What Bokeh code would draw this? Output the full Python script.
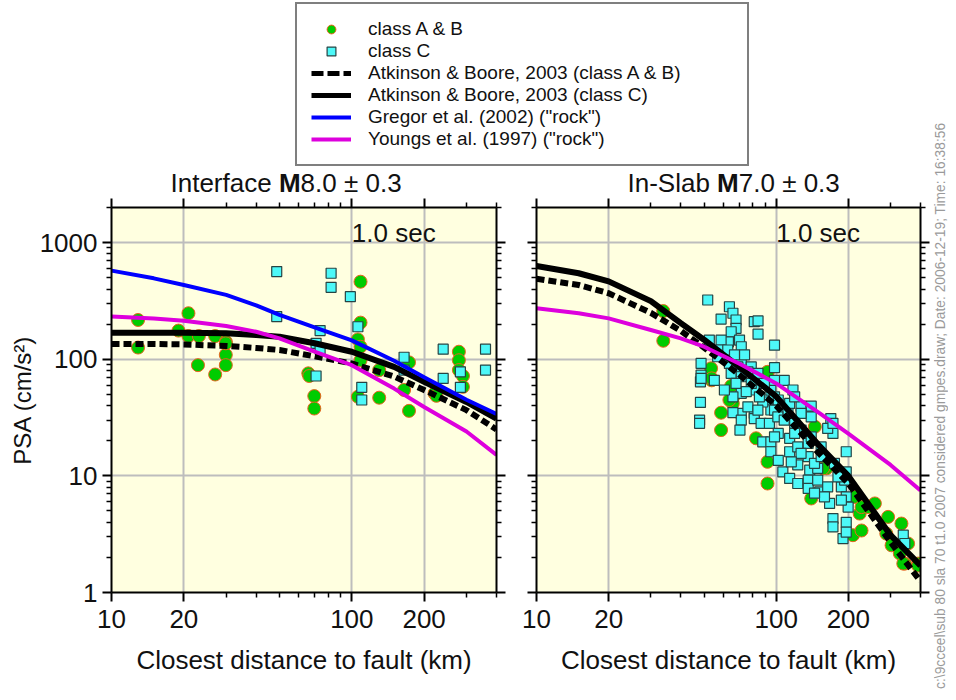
import math
from bokeh.plotting import figure
from bokeh.models import (LogAxis, FixedTicker, Label, Legend, LegendItem,
                          Range1d, NumeralTickFormatter)
from bokeh.layouts import column, row
from bokeh.embed import file_html
from bokeh.resources import INLINE

FONT = "Liberation Sans"
BG = "#FFFFE0"
GREEN = "#00CC00"
GREEN_EDGE = "#E8641E"
CYAN = "#4DF8F8"
CYAN_EDGE = "#264444"
TXT = "#111111"

# ---------------- data ----------------
x_ticks = [10, 20, 100, 200]
x_minor = [30, 40, 50, 60, 70, 80, 90, 300, 400]
y_ticks = [1, 10, 100, 1000]
y_minor = [2, 3, 4, 5, 6, 7, 8, 9, 20, 30, 40, 50, 60, 70, 80, 90,
           200, 300, 400, 500, 600, 700, 800, 900, 2000]

curve_x = [10, 15, 20, 30, 40, 50, 70, 100, 150, 200, 300, 400]

# Interface M8.0 panel
left_ab03_ab = [135, 135, 134, 130, 125, 120, 106, 92, 71, 54.5, 36.6, 25]
left_ab03_c = [169, 169, 169, 167, 161, 156, 137, 116, 86, 64, 43, 31]
left_gregor = [575, 494, 433, 356, 290, 240, 188, 145, 97, 70, 45, 34]
left_youngs = [232, 223, 214, 193, 172, 151, 116, 89, 56, 39, 24, 15.1]

left_ab_x = [12.9, 12.9, 20.9, 19.0, 20.9, 23.1, 22.9, 27.0, 27.0, 29.9, 29.9, 29.9,
             29.9, 65.9, 66.5, 69.8, 69.8, 108.7, 108.7, 106, 108.7, 108.7, 106, 130,
             130, 173, 165, 173, 221, 225, 279, 279, 279, 290, 290]
left_ab_y = [217, 126, 248, 176, 158, 158, 89, 158, 74, 141, 109, 89,
             137, 75.7, 71.8, 48.3, 37.8, 462, 206, 148, 128, 98, 47.7, 46.8,
             80.7, 94, 54.5, 36.1, 51, 48.6, 116, 98, 80.7, 71.8, 58]
left_c_x = [48.7, 48.7, 82, 82, 98.6, 73.8, 71, 73.8, 71, 106, 110, 110, 165, 165,
            240, 240, 283, 283, 360, 360]
left_c_y = [564, 232, 546, 414, 344, 176, 137, 122, 71.8, 190, 57.4, 44.7, 104, 80.7,
            122, 68.5, 78, 57.4, 122, 80.7]

# In-Slab M7.0 panel
right_ab03_ab = [490, 433, 368, 250, 175, 126, 74, 40, 15.8, 8.6, 2.7, 1.25]
right_ab03_c = [630, 546, 465, 315, 204, 147, 86, 48, 18.5, 10, 3.1, 1.7]
right_youngs = [274, 248, 224, 178, 151, 128, 92, 62, 35, 23, 12.4, 7.5]

right_ab_x = [33.8, 33.8, 53.5, 53.8, 58.9, 65.9, 92, 58.9, 82.4, 92, 92, 140, 162, 145,
              209, 227, 223, 242, 258, 293, 333, 288, 303, 328, 344, 355, 391, 339, 391,
              157, 67, 64.9, 63.8, 213, 227, 92, 53.8]
right_ab_y = [259, 144, 83.6, 66, 34.8, 41.8, 75.7, 24.7, 21, 13.2, 8.6, 6.4, 11.6, 26.4,
              3.1, 3.4, 4.75, 5.4, 5.8, 4.45, 3.9, 3.2, 2.54, 2.16, 1.77, 2.63, 1.77, 1.77, 1.7,
              11.6, 49.3, 59, 44.7, 6.6, 5.4, 78, 68.5]

right_c_x = [51.8, 63.8, 66, 58.9, 68, 68, 81, 84, 84, 98.4, 64.9, 63.2, 70.3, 71.5, 58.9,
             52.6, 58, 48.6, 48.6, 48.3, 48.3, 47.9, 57, 63.8, 71.5, 78.7, 81, 98.4, 108,
             117.5, 127, 140, 140, 169, 102, 92, 95, 81, 71.5, 66, 60.8, 55.2, 71.5, 81, 66,
             87.9, 47.9, 71.5, 70.6, 81, 86.5, 93.7, 87.9, 95, 95, 102, 113.8, 113.8, 102,
             106.6, 113.8, 123, 136, 138, 136, 136, 149, 152, 164, 167, 187, 196, 199.6,
             172.5, 172.5, 196, 190, 196, 172.5, 164, 196, 196, 193, 149, 154, 136, 123, 112,
             127, 172.5, 339, 344, 48.6, 62.8, 67, 73.8, 69.2, 76.2, 64.9, 71.5, 68, 78.7,
             75, 85.1, 95, 98.4, 102, 113.8, 119.4, 98.4, 89.3, 83.9, 76.2, 83.9, 98.4,
             101.6, 108, 119.4, 127, 98.4, 119.4, 140, 127, 115.6, 144.5, 154, 175, 181,
             159, 187, 123, 144.5]
right_c_y = [322, 282, 248, 221, 217, 184, 210, 213, 164, 132, 172, 141, 146, 128, 146,
             146, 120, 92, 73, 64, 42.6, 30.1, 105, 92, 98, 86, 73, 84.6, 66,
             54.5, 39.6, 39.6, 32, 31, 34.4, 44.7, 36.7, 54.5, 51, 47.6, 54.5, 66, 34.4, 34.4, 34.8,
             43, 28.2, 30, 24.7, 31, 28.2, 28.2, 19.6, 19.6, 16.1, 23.1, 21, 16.1, 13.6,
             10.8, 9.5, 12.4, 14.6, 11.2, 9.2, 7.8, 9.2, 7.3, 8.05, 5.8, 8.05, 6.6, 5.4,
             4.3, 3.65, 4.0, 2.9, 3.3, 23.1, 25.5, 16.1, 10.8, 9.2, 11.6, 17.7, 19, 17.7, 34.4,
             34.4, 28.2, 3.1, 2.63, 68.6, 120, 109, 109, 86, 78, 75.7, 70.8, 62, 62,
             52.7, 47.6, 54.5, 47.6, 44.7, 41.8, 47.6, 66, 62, 75.7, 39.1, 36.6, 36.6,
             32, 30, 28.2, 24.7, 21.6, 23.1, 21.6, 15.6, 13.2, 12.8, 14.6, 12.8, 9.8,
             6.6, 6.2, 8.6, 7.1]

legend_labels = ["class A & B", "class C", "Atkinson & Boore, 2003 (class A & B)",
                 "Atkinson & Boore, 2003 (class C)", "Gregor et al. (2002) (\"rock\")",
                 "Youngs et al. (1997) (\"rock\")"]
titles = [("Interface ", "M", "8.0 \u00b1 0.3"), ("In-Slab ", "M", "7.0 \u00b1 0.3")]
xlabel = "Closest distance to fault (km)"
ylabel = "PSA (cm/s\u00b2)"
period_label = "1.0 sec"
side_note = ("c:\\9cceel\\sub  80  sla  70  t1.0  2007  considered  gmpes.draw;  "
             "Date: 2006-12-19;  Time: 16:38:56")

# ---------------- layout constants (pixels) ----------------
HEAD_H = 197          # legend + titles strip
FRAME_H = 385
TOP = 10
BOTTOM = 105
PANEL_H = TOP + FRAME_H + BOTTOM
SIDE_W = 15
BASE_FIX = 10         # svg alphabetic-baseline correction for 26px labels


def style_axis(ax, labels=True):
    ax.axis_line_width = 2
    ax.axis_line_color = "black"
    ax.major_tick_line_width = 2
    ax.minor_tick_line_width = 1.5
    ax.major_tick_line_color = "black"
    ax.minor_tick_line_color = "black"
    ax.major_tick_out = 9
    ax.major_tick_in = 0
    ax.minor_tick_out = 5
    ax.minor_tick_in = 0
    ax.major_label_text_font = FONT
    ax.major_label_text_font_size = "26px"
    ax.major_label_text_color = TXT
    ax.axis_label_text_font = FONT
    ax.axis_label_text_font_size = "26px"
    ax.axis_label_text_font_style = "normal"
    ax.axis_label_text_color = TXT
    ax.formatter = NumeralTickFormatter(format="0")
    if not labels:
        ax.major_label_text_font_size = "0px"
        ax.major_label_standoff = 0


def make_panel(width, ml, mr, show_y, ab_x, ab_y, c_x, c_y,
               ab03_ab, ab03_c, youngs, gregor=None):
    p = figure(width=width, height=PANEL_H,
               x_axis_type="log", y_axis_type="log",
               x_range=Range1d(10, 400), y_range=Range1d(1, 2000),
               output_backend="svg", toolbar_location=None,
               min_border_left=ml, min_border_right=mr,
               min_border_top=TOP, min_border_bottom=BOTTOM,
               background_fill_color=BG, border_fill_color="white",
               outline_line_color=None)
    xt = FixedTicker(ticks=x_ticks, minor_ticks=x_minor)
    yt = FixedTicker(ticks=y_ticks, minor_ticks=y_minor)
    bx = p.xaxis[0]
    ly = p.yaxis[0]
    bx.ticker = xt
    ly.ticker = yt
    style_axis(bx)
    bx.major_label_standoff = 8
    bx.axis_label = xlabel
    bx.axis_label_standoff = 14
    style_axis(ly, labels=show_y)
    if show_y:
        ly.major_label_standoff = 5
        ly.axis_label = ylabel
        ly.axis_label_text_font_size = "24px"
        ly.axis_label_standoff = 1
    top = LogAxis(ticker=xt)
    style_axis(top, labels=False)
    p.add_layout(top, "above")
    right = LogAxis(ticker=yt)
    style_axis(right, labels=False)
    p.add_layout(right, "right")

    p.xgrid[0].ticker = FixedTicker(ticks=x_ticks)
    p.ygrid[0].ticker = FixedTicker(ticks=y_ticks)
    for g in (p.xgrid[0], p.ygrid[0]):
        g.grid_line_color = "#BDBDBD"
        g.grid_line_width = 2

    p.scatter(ab_x, ab_y, marker="circle", size=13, fill_color=GREEN,
              line_color=GREEN_EDGE, line_width=1)
    p.scatter(c_x, c_y, marker="square", size=10, fill_color=CYAN,
              line_color=CYAN_EDGE, line_width=1.2)
    p.line(curve_x, ab03_ab, line_color="black", line_width=6, line_dash="8 4")
    p.line(curve_x, ab03_c, line_color="black", line_width=6)
    if gregor is not None:
        p.line(curve_x, gregor, line_color="#0000FF", line_width=4)
    p.line(curve_x, youngs, line_color="#DD00DD", line_width=4)

    p.add_layout(Label(x=100, y=FRAME_H - 35 + BASE_FIX, x_units="data", y_units="screen",
                       text=period_label, text_font=FONT, text_font_size="26px",
                       text_color=TXT, text_baseline="alphabetic"))
    return p


left = make_panel(111 + 385 + 19, 111, 19, True, left_ab_x, left_ab_y,
                  left_c_x, left_c_y, left_ab03_ab, left_ab03_c, left_youngs,
                  gregor=left_gregor)
right = make_panel(21 + 384 + 13, 21, 13, False, right_ab_x, right_ab_y,
                   right_c_x, right_c_y, right_ab03_ab, right_ab03_c, right_youngs)

# header: legend + panel titles
HEAD_W = left.width + right.width
lf = figure(width=HEAD_W, height=HEAD_H, output_backend="svg", toolbar_location=None,
            min_border=0, x_axis_type=None, y_axis_type=None, outline_line_color=None,
            x_range=Range1d(0, 1), y_range=Range1d(0, 1))
# legend sample glyphs (kept outside the visible range)
r1 = lf.scatter([-5], [-5], marker="circle", size=13, fill_color=GREEN,
                line_color=GREEN_EDGE, line_width=1)
r2 = lf.scatter([-5], [-5], marker="square", size=10, fill_color=CYAN,
                line_color=CYAN_EDGE, line_width=1.2)
r3 = lf.line([-6, -5], [-5, -5], line_color="black", line_width=5, line_dash="12 4")
r4 = lf.line([-6, -5], [-5, -5], line_color="black", line_width=5)
r5 = lf.line([-6, -5], [-5, -5], line_color="#0000FF", line_width=4)
r6 = lf.line([-6, -5], [-5, -5], line_color="#DD00DD", line_width=4)
items = [LegendItem(label=lab, renderers=[r]) for lab, r in
         zip(legend_labels, [r1, r2, r3, r4, r5, r6])]
leg = Legend(items=items, location=(295, HEAD_H - 166), margin=0, padding=14, spacing=0,
             glyph_width=40, glyph_height=22, label_height=22, label_width=365,
             label_standoff=17, label_text_font=FONT, label_text_font_size="19px",
             label_text_color=TXT, label_text_baseline="middle",
             border_line_color="black", border_line_width=2,
             background_fill_color="white", background_fill_alpha=1.0)
lf.add_layout(leg)


def add_title(fig, x0, parts, widths):
    styles = ["normal", "bold", "normal"]
    xs = [x0, x0 + widths[0], x0 + widths[0] + widths[1]]
    for t, s, x in zip(parts, styles, xs):
        fig.add_layout(Label(x=x, y=HEAD_H - 192.7 + BASE_FIX, x_units="screen",
                             y_units="screen", text=t, text_font=FONT,
                             text_font_size="26px", text_font_style=s, text_color=TXT,
                             text_baseline="alphabetic"))


add_title(lf, 170, titles[0], (108.4, 21.7))
add_title(lf, 627, titles[1], (89.6, 21.7))

# side note strip
TOTAL_H = HEAD_H + PANEL_H
sf = figure(width=SIDE_W, height=TOTAL_H, output_backend="svg",
            toolbar_location=None, min_border=0, x_axis_type=None, y_axis_type=None,
            outline_line_color=None)
sf.add_layout(Label(x=7, y=TOTAL_H - 388, x_units="screen", y_units="screen",
                    text=side_note, text_font=FONT, text_font_size="13.8px",
                    text_color="#9A9A9A", angle=math.pi / 2, text_align="center",
                    text_baseline="middle"))

layout = row(column(lf, row(left, right)), sf)

open("out.html", "w").write(file_html(layout, INLINE))
